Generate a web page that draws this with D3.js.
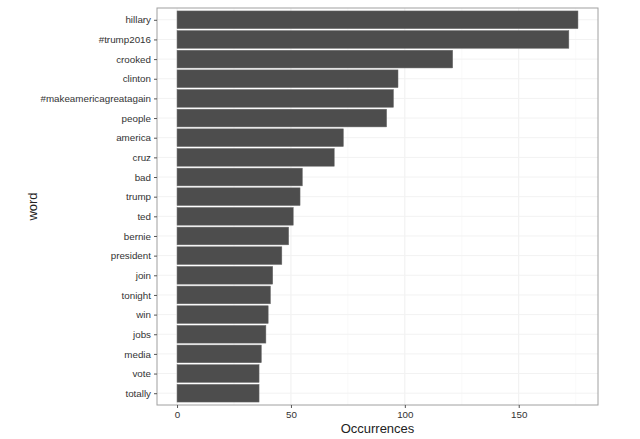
<!DOCTYPE html>
<html lang="en">
<head>
    <meta charset="UTF-8">
    <title>Word Occurrences</title>
    <style>
        body {
            margin: 0;
            background-color: #ffffff;
            font-family: "Liberation Sans", Arial, sans-serif;
        }
        .axis text {
            font-size: 9.8px;
            fill: #333;
        }
        .axis path {
            display: none;
        }
        .axis line {
            stroke: #555;
        }
        .axis-label {
            font-size: 13px;
            fill: #222;
        }
    </style>
</head>
<body>
    <svg id="chart" width="640" height="439"></svg>

    <script src="https://cdnjs.cloudflare.com/ajax/libs/d3/7.8.5/d3.min.js"></script>
    <script>
        // Words ordered from top to bottom
        const words = ["hillary", "#trump2016", "crooked", "clinton", "#makeamericagreatagain",
            "people", "america", "cruz", "bad", "trump", "ted", "bernie", "president",
            "join", "tonight", "win", "jobs", "media", "vote", "totally"];
        const counts = [176, 172, 121, 97, 95, 92, 73, 69, 55, 54, 51, 49, 46, 42, 41, 40, 39, 37, 36, 36];
        const xTicks = [0, 50, 100, 150];

        const svg = d3.select("#chart");
        const panel = { left: 157, top: 8, right: 598, bottom: 405 };

        const maxVal = d3.max(counts);
        // ggplot-style 5% expansion
        const x = d3.scaleLinear()
            .domain([-0.05 * maxVal, maxVal * 1.05])
            .range([panel.left, panel.right]);

        // discrete axis with 0.6 unit padding each side
        const n = words.length;
        const y = d3.scaleLinear()
            .domain([-0.6, n - 1 + 0.6])
            .range([panel.top, panel.bottom]);

        // minor gridlines
        const minor = [25, 75, 125, 175];
        svg.selectAll(".minor")
            .data(minor)
            .enter().append("line")
            .attr("x1", d => x(d)).attr("x2", d => x(d))
            .attr("y1", panel.top).attr("y2", panel.bottom)
            .attr("stroke", "#f6f6f6")
            .attr("stroke-width", 0.6);

        // major gridlines
        svg.selectAll(".major")
            .data(xTicks)
            .enter().append("line")
            .attr("x1", d => x(d)).attr("x2", d => x(d))
            .attr("y1", panel.top).attr("y2", panel.bottom)
            .attr("stroke", "#efefef")
            .attr("stroke-width", 1);

        svg.selectAll(".hgrid")
            .data(words)
            .enter().append("line")
            .attr("x1", panel.left).attr("x2", panel.right)
            .attr("y1", (d, i) => y(i)).attr("y2", (d, i) => y(i))
            .attr("stroke", "#f2f2f2")
            .attr("stroke-width", 1);

        // bars
        const barH = y(0.45) - y(-0.45);
        svg.selectAll(".bar")
            .data(counts)
            .enter().append("rect")
            .attr("x", x(0))
            .attr("y", (d, i) => y(i) - barH / 2)
            .attr("width", d => x(d) - x(0))
            .attr("height", barH)
            .attr("fill", "#4d4d4d")
            .attr("stroke", "#6a6a6a")
            .attr("stroke-width", 0.5);

        // panel border
        svg.append("rect")
            .attr("x", panel.left)
            .attr("y", panel.top)
            .attr("width", panel.right - panel.left)
            .attr("height", panel.bottom - panel.top)
            .attr("fill", "none")
            .attr("stroke", "#a0a0a0")
            .attr("stroke-width", 1);

        // x axis
        svg.append("g")
            .attr("class", "axis")
            .attr("transform", `translate(0,${panel.bottom})`)
            .call(d3.axisBottom(x).tickValues(xTicks).tickSize(3).tickPadding(3));

        // y axis
        const yAxisScale = d3.scalePoint().domain(words)
            .range([y(0), y(n - 1)]);
        svg.append("g")
            .attr("class", "axis")
            .attr("transform", `translate(${panel.left},0)`)
            .call(d3.axisLeft(yAxisScale).tickSize(3).tickPadding(3));

        // axis labels
        svg.append("text")
            .attr("class", "axis-label")
            .attr("x", (panel.left + panel.right) / 2)
            .attr("y", 433)
            .attr("text-anchor", "middle")
            .text("Occurrences");

        svg.append("text")
            .attr("class", "axis-label")
            .attr("transform", "rotate(-90)")
            .attr("x", -(panel.top + panel.bottom) / 2)
            .attr("y", 37)
            .attr("text-anchor", "middle")
            .text("word");
    </script>
</body>
</html>
